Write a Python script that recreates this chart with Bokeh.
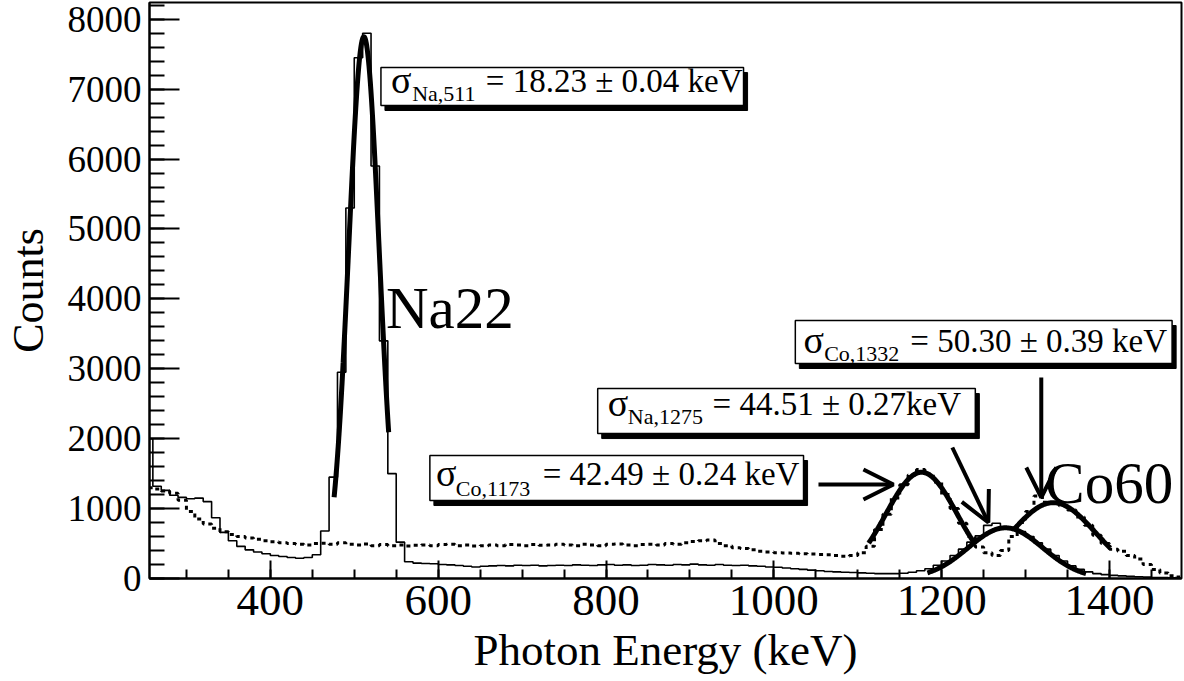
import numpy as np
from bokeh.plotting import figure
from bokeh.models import Range1d, SingleIntervalTicker, Arrow, OpenHead
from bokeh.core.properties import value
from bokeh.embed import file_html
from bokeh.resources import INLINE

# ---------------- data ----------------
bin_start = 250.0      # keV, lower edge of first bin
bin_width = 10.0       # keV

# Na22 spectrum (solid histogram), counts per bin
na22_counts = [
    2000, 1320, 1260, 1190, 1160, 1140, 1150, 1100, 870, 660,
    540, 460, 410, 380, 355, 330, 315, 300, 290, 300,
    340, 680, 1450, 2950, 5300, 7450, 7800, 5900, 3400, 1500,
    520, 240, 220, 215, 210, 200, 195, 185, 175, 165,
    175, 180, 185, 180, 190, 185, 190, 180, 185, 190,
    185, 195, 190, 185, 195, 200, 190, 195, 185, 190,
    200, 195, 190, 200, 195, 205, 195, 190, 200, 190,
    185, 190, 180, 175, 165, 160, 150, 140, 130, 120,
    110, 100, 95, 90, 85, 80, 75, 70, 70, 70,
    75, 90, 110, 140, 190, 250, 330, 420, 520, 610,
    760, 790, 740, 720, 670, 600, 510, 420, 330, 250,
    180, 130, 95, 70, 55, 45, 38, 30, 25, 20,
    15, 12, 10, 5,
]

# Co60 spectrum (dotted histogram), counts per bin
co60_counts = [
    1300, 1280, 1250, 1220, 1120, 960, 850, 780, 720, 670,
    630, 600, 580, 560, 540, 525, 510, 500, 490, 480,
    500, 505, 490, 510, 490, 480, 495, 470, 485, 470,
    480, 465, 475, 480, 470, 485, 490, 470, 480, 465,
    470, 480, 470, 485, 480, 470, 485, 475, 480, 490,
    480, 470, 490, 480, 470, 490, 495, 480, 470, 485,
    490, 480, 500, 490, 510, 530, 540, 550, 500, 470,
    440, 430, 410, 390, 380, 370, 365, 360, 355, 350,
    345, 340, 330, 320, 330, 370, 460, 700, 920, 1150,
    1340, 1480, 1560, 1500, 1380, 1200, 1000, 790, 600, 450,
    370, 330, 400, 600, 800, 960, 1180, 1090, 1080, 1040,
    980, 880, 760, 620, 500, 420, 390, 330, 280, 200,
    130, 80, 40, 20,
]

# Gaussian fits: amplitude, mean (keV), sigma (keV), fit range (keV)
fit_names = ["Na,511", "Co,1173", "Na,1275", "Co,1332"]
fit_amp = [7750, 1520, 725, 1085]
fit_mean = [511.5, 1176.0, 1276.0, 1333.0]
fit_sigma = [18.23, 42.49, 44.51, 50.30]
fit_lo = [476, 1113, 1183, 1285]
fit_hi = [541, 1240, 1372, 1401]

# fit result labels: (subscript, value text)
sigma_subs = ["Na,511", "Co,1332", "Na,1275", "Co,1173"]
sigma_vals = ["= 18.23 ± 0.04 keV", "= 50.30 ± 0.39 keV",
              "= 44.51 ± 0.27keV", "= 42.49 ± 0.24 keV"]
source_labels = ["Na22", "Co60"]

x_ticks_interval = 200
y_ticks_interval = 1000

# ---------------- figure ----------------
FONT = "Liberation Serif"
p = figure(width=1184, height=681,
           x_range=Range1d(256, 1485.8), y_range=Range1d(0, 8240),
           min_border_left=148, min_border_right=3, min_border_top=2,
           min_border_bottom=103,
           output_backend="svg", toolbar_location=None, title=None)
p.background_fill_color = "white"
p.border_fill_color = "white"
p.outline_line_color = "black"
p.outline_line_width = 2
p.xgrid.visible = False
p.ygrid.visible = False

p.xaxis.ticker = SingleIntervalTicker(interval=x_ticks_interval, num_minor_ticks=4)
p.yaxis.ticker = SingleIntervalTicker(interval=y_ticks_interval, num_minor_ticks=5)
for ax in (p.xaxis, p.yaxis):
    ax.axis_line_width = 2
    ax.major_tick_line_width = 2
    ax.minor_tick_line_width = 2
    ax.major_tick_out = 0
    ax.minor_tick_out = 0
    ax.major_label_text_font = FONT
    ax.axis_label_text_font = FONT
    ax.axis_label_text_font_style = "normal"
    ax.major_label_text_color = "black"
    ax.axis_label_text_color = "black"

p.xaxis.major_tick_in = 18
p.xaxis.minor_tick_in = 9
p.xaxis.major_label_text_font_size = "45px"
p.xaxis.major_label_standoff = 7
p.xaxis.axis_label = "Photon Energy (keV)"
p.xaxis.axis_label_text_font_size = "45px"
p.xaxis.axis_label_standoff = 7

p.yaxis.major_tick_in = 30
p.yaxis.minor_tick_in = 15
p.yaxis.major_label_text_font_size = "37px"
p.yaxis.major_label_standoff = 8
p.yaxis.axis_label = "Counts"
p.yaxis.axis_label_text_font_size = "44px"
p.yaxis.axis_label_standoff = 12

# ---------------- histograms ----------------
centers = bin_start + bin_width * (np.arange(len(na22_counts)) + 0.5)
p.step(x=centers, y=na22_counts, mode="center", line_color="black", line_width=1.6)
p.step(x=centers, y=co60_counts, mode="center", line_color="black",
       line_width=3, line_dash="4 4")

# ---------------- fits ----------------
for a, m, s, lo, hi in zip(fit_amp, fit_mean, fit_sigma, fit_lo, fit_hi):
    e = np.linspace(lo, hi, 200)
    p.line(e, a * np.exp(-0.5 * ((e - m) / s) ** 2), line_color="black", line_width=5)

# ---------------- annotation boxes (layout, data units) ----------------
# left, right, bottom, top, sigma_x, sub_x, main_x, main_y(mid), sub_y(mid)
boxes = [
    (531.8, 963.9, 6767, 7310, 543.7, 569.0, 656.8, 7111, 6944),
    (1025.6, 1474.6, 3076, 3691, 1035.4, 1060.0, 1162.7, 3392, 3225),
    (790.1, 1240.1, 2074, 2718, 802.0, 826.0, 927.0, 2491, 2323),
    (590.1, 1035.4, 1116, 1760, 597.3, 621.0, 724.6, 1489, 1293),
]
sdx, sdy = 4.8, 72.0
for (l, r, b, t, sx, subx, mx, mb, sb), sub, val in zip(boxes, sigma_subs, sigma_vals):
    p.quad(left=[l + sdx], right=[r + sdx], bottom=[b - sdy], top=[t - sdy],
           fill_color="black", line_color="black")
    p.quad(left=[l], right=[r], bottom=[b], top=[t],
           fill_color="white", line_color="black", line_width=1.5)
    p.text(x=[sx], y=[mb + 24], text=["σ"], text_font=value(FONT), text_font_size="38px",
           text_baseline="middle", text_align="left", text_color="black")
    p.text(x=[subx], y=[sb], text=[sub], text_font=value(FONT), text_font_size="22px",
           text_baseline="middle", text_align="left", text_color="black")
    p.text(x=[mx], y=[mb], text=[val], text_font=value(FONT), text_font_size="33px",
           text_baseline="middle", text_align="left", text_color="black")

# source labels
p.text(x=[537.7, 1323.5], y=[3876, 1372], text=source_labels, text_font=value(FONT),
       text_font_size="59px", text_baseline="middle", text_align="left",
       text_color="black")

# arrows
arrows = [
    (1053.2, 1345, 1142.5, 1345),
    (1212.7, 1874, 1255.6, 801),
    (1318.7, 2876, 1318.7, 1159),
]
for xs, ys, xe, ye in arrows:
    p.add_layout(Arrow(end=OpenHead(size=30, line_width=4, line_color="black"),
                       x_start=xs, y_start=ys, x_end=xe, y_end=ye,
                       line_width=4, line_color="black"))

open("out.html", "w").write(file_html(p, INLINE))
